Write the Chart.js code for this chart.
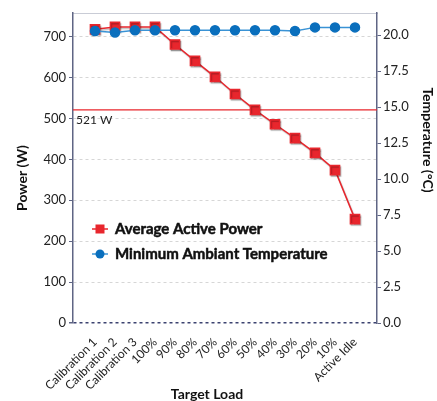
<!DOCTYPE html>
<html>
<head>
<meta charset="utf-8">
<script src="https://cdn.jsdelivr.net/npm/chart.js@4.4.0/dist/chart.umd.min.js"></script>
<style>
  html, body { margin: 0; padding: 0; background: #fff; }
  canvas { display: block; }
</style>
</head>
<body>
<canvas id="myChart" width="437" height="401"></canvas>
<script>
// data
const targetLoads = ['Calibration 1', 'Calibration 2', 'Calibration 3', '100%', '90%', '80%', '70%',
  '60%', '50%', '40%', '30%', '20%', '10%', 'Active Idle'];
const avgPower = [718, 724, 724, 724, 681, 641, 602, 560, 521, 486, 452, 416, 374, 254];
const minTemp = [20.3, 20.2, 20.35, 20.35, 20.35, 20.35, 20.35, 20.35, 20.35, 20.35, 20.3, 20.55, 20.55, 20.55];
const refPower = 521;
const powerTicks = [0, 100, 200, 300, 400, 500, 600, 700];
const tempTicks = [0, 2.5, 5, 7.5, 10, 12.5, 15, 17.5, 20];

const RED = '#e8262d';
const BLUE = '#0a6fbd';
const BLUE_LINE = '#3a93d5';
const AXIS = '#5f6584';
const FONT = 'Lato';

const xMin = -1.1, xMax = 14.1;

// extra text: ref label, legend, axis titles
const extras = {
  id: 'extras',
  beforeDatasetDraw(chart, args) {
    // light grey drop shadow under the power series
    if (args.index === 1) {
      chart.ctx.save();
      chart.ctx.shadowColor = 'rgba(0,0,0,0.25)';
      chart.ctx.shadowOffsetX = 1;
      chart.ctx.shadowOffsetY = 1.5;
      chart.ctx.shadowBlur = 1;
    }
  },
  afterDatasetDraw(chart, args) {
    if (args.index === 1) chart.ctx.restore();
  },
  afterDraw(chart) {
    const ctx = chart.ctx;
    const area = chart.chartArea;
    const y = chart.scales.y;
    ctx.save();
    ctx.fillStyle = '#222';
    ctx.font = '12px ' + FONT;
    ctx.textBaseline = 'middle';
    ctx.textAlign = 'left';
    ctx.fillText(refPower + ' W', area.left + 3, y.getPixelForValue(refPower) + 10);

    // legend
    const items = [
      { text: 'Average Active Power', color: RED, line: RED, style: 'rect' },
      { text: 'Minimum Ambiant Temperature', color: BLUE, line: BLUE_LINE, style: 'circle' }
    ];
    items.forEach((it, i) => {
      const cy = 229 + i * 25;
      ctx.strokeStyle = it.line;
      ctx.lineWidth = 1.5;
      ctx.beginPath();
      ctx.moveTo(92, cy);
      ctx.lineTo(108, cy);
      ctx.stroke();
      ctx.fillStyle = it.color;
      if (it.style === 'rect') {
        ctx.fillRect(95.5, cy - 4.5, 9, 9);
      } else {
        ctx.beginPath();
        ctx.arc(100, cy, 4.5, 0, Math.PI * 2);
        ctx.fill();
      }
      ctx.fillStyle = '#111';
      ctx.strokeStyle = '#111';
      ctx.lineWidth = 0.5;
      ctx.font = 'bold 15px ' + FONT;
      ctx.fillText(it.text, 115, cy + 0.5);
      ctx.strokeText(it.text, 115, cy + 0.5);
    });

    // axis titles
    ctx.fillStyle = '#111';
    ctx.font = 'bold 14px ' + FONT;
    ctx.textAlign = 'center';
    ctx.fillText('Target Load', 207, 394);
    ctx.save();
    ctx.translate(22, 178);
    ctx.rotate(-Math.PI / 2);
    ctx.fillText('Power (W)', 0, 0);
    ctx.restore();
    ctx.save();
    ctx.translate(428, 140);
    ctx.rotate(Math.PI / 2);
    ctx.fillText('Temperature (°C)', 0, 0);
    ctx.restore();
    ctx.restore();
  }
};

const ctx = document.getElementById('myChart').getContext('2d');
const chart = new Chart(ctx, {
  type: 'line',
  data: {
    datasets: [{
      label: 'Minimum Ambiant Temperature',
      data: minTemp.map((v, i) => ({ x: i, y: v })),
      yAxisID: 'y1',
      borderColor: BLUE_LINE,
      borderWidth: 1.5,
      backgroundColor: BLUE,
      pointBackgroundColor: BLUE,
      pointBorderColor: BLUE,
      pointStyle: 'circle',
      pointRadius: 4.5,
      order: 0
    }, {
      label: 'Average Active Power',
      data: avgPower.map((v, i) => ({ x: i, y: v })),
      yAxisID: 'y',
      borderColor: RED,
      borderWidth: 1.5,
      backgroundColor: RED,
      pointBackgroundColor: RED,
      pointBorderColor: RED,
      pointStyle: 'rect',
      pointRadius: 6.5,
      order: 1
    }, {
      label: 'ref',
      data: [{ x: xMin, y: refPower }, { x: xMax, y: refPower }],
      yAxisID: 'y',
      borderColor: RED,
      borderWidth: 1.3,
      pointRadius: 0,
      order: 2
    }]
  },
  options: {
    responsive: false,
    animation: false,
    layout: { padding: { top: 13, left: 0, right: 0, bottom: 0 } },
    plugins: { legend: { display: false }, tooltip: { enabled: false } },
    scales: {
      x: {
        type: 'linear',
        position: 'bottom',
        min: xMin,
        max: xMax,
        afterBuildTicks: s => { s.ticks = targetLoads.map((c, i) => ({ value: i })); },
        afterFit: s => { s.height = 78; },
        grid: { display: false },
        border: { display: false },
        ticks: {
          autoSkip: false,
          minRotation: 45,
          maxRotation: 45,
          padding: 4,
          color: '#222',
          font: { family: FONT, size: 12 },
          callback: v => targetLoads[v]
        }
      },
      xTop: {
        type: 'linear',
        position: 'top',
        min: xMin,
        max: xMax,
        afterFit: s => { s.height = 0; },
        grid: { display: false, drawTicks: false },
        border: { display: true, color: '#c9ccd6', width: 1 },
        ticks: { display: false }
      },
      y: {
        position: 'left',
        min: 0,
        max: 758,
        afterBuildTicks: s => { s.ticks = powerTicks.map(v => ({ value: v })); },
        afterFit: s => { s.width = 73; },
        grid: {
          color: c => (c.tick && c.tick.value === 0) ? '#3c4370' : '#d6d6d6',
          lineWidth: c => (c.tick && c.tick.value === 0) ? 1.5 : 1,
          tickColor: AXIS,
          tickLength: 4,
          tickBorderDash: []
        },
        border: { display: true, color: AXIS, width: 1.5, dash: [3, 3] },
        ticks: {
          padding: 3,
          color: '#222',
          font: { family: FONT, size: 13 }
        }
      },
      y1: {
        position: 'right',
        min: 0,
        max: 21.55,
        afterBuildTicks: s => { s.ticks = tempTicks.map(v => ({ value: v })); },
        afterFit: s => { s.width = 60; },
        grid: { drawOnChartArea: false, tickColor: AXIS, tickLength: 4 },
        border: { display: true, color: AXIS, width: 1.5 },
        ticks: {
          padding: 2,
          color: '#222',
          font: { family: FONT, size: 13 },
          callback: v => v.toFixed(1)
        }
      }
    }
  },
  plugins: [extras]
});
</script>
</body>
</html>
